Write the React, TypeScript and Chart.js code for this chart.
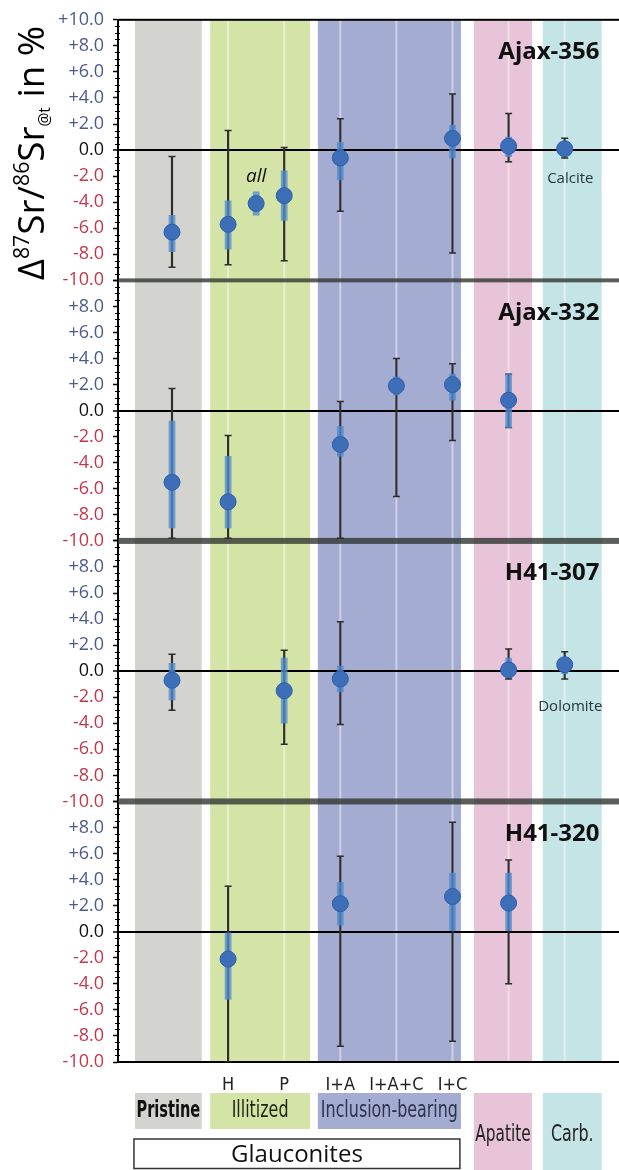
import React, { useEffect, useRef } from "react";
import { Chart, registerables } from "chart.js";

Chart.register(...registerables);

// ---------- data ----------
const columns = ["Pristine", "H", "all", "P", "I+A", "I+A+C", "I+C", "Apatite", "Carb"];
const columnPos = [0, 1, 1.5, 2, 3, 4, 5, 6, 7];
const xTickPos = [1, 2, 3, 4, 5];
const xTickLabels = ["H", "P", "I+A", "I+A+C", "I+C"];
const yTickValues = [10, 8, 6, 4, 2, 0, -2, -4, -6, -8, -10];
const panelTitles = ["Ajax-356", "Ajax-332", "H41-307", "H41-320"];

// Ajax-356
const ajax356Mean = [-6.3, -5.7, -4.1, -3.5, -0.6, null, 0.9, 0.3, 0.1];
const ajax356Max = [-0.5, 1.5, null, 0.2, 2.4, null, 4.3, 2.8, 0.9];
const ajax356Min = [-9.0, -8.8, null, -8.5, -4.7, null, -7.9, -0.9, -0.6];
const ajax356SpreadHi = [-5.0, -3.9, -3.2, -1.6, 0.6, null, 1.9, 1.0, 0.5];
const ajax356SpreadLo = [-7.8, -7.6, -5.0, -5.4, -2.3, null, -0.6, -0.5, -0.3];

// Ajax-332
const ajax332Mean = [-5.5, -7.0, null, null, -2.6, 1.9, 2.0, 0.8, null];
const ajax332Max = [1.7, -1.9, null, null, 0.7, 4.0, 3.6, 2.8, null];
const ajax332Min = [-9.8, -9.8, null, null, -9.8, -6.6, -2.3, -1.3, null];
const ajax332SpreadHi = [-0.8, -3.5, null, null, -1.2, 2.6, 2.8, 2.8, null];
const ajax332SpreadLo = [-9.0, -9.0, null, null, -3.5, 1.2, 0.8, -1.3, null];

// H41-307
const h41307Mean = [-0.7, null, null, -1.5, -0.6, null, null, 0.1, 0.5];
const h41307Max = [1.3, null, null, 1.6, 3.8, null, null, 1.7, 1.5];
const h41307Min = [-3.0, null, null, -5.6, -4.1, null, null, -0.6, -0.6];
const h41307SpreadHi = [0.6, null, null, 1.0, 0.4, null, null, 1.0, 1.0];
const h41307SpreadLo = [-2.2, null, null, -4.0, -1.6, null, null, -0.5, -0.2];

// H41-320
const h41320Mean = [null, -2.1, null, null, 2.15, null, 2.7, 2.2, null];
const h41320Max = [null, 3.5, null, null, 5.8, null, 8.4, 5.5, null];
const h41320Min = [null, -10.0, null, null, -8.8, null, -8.4, -4.0, null];
const h41320SpreadHi = [null, 0.0, null, null, 3.8, null, 4.5, 4.5, null];
const h41320SpreadLo = [null, -5.2, null, null, 0.5, null, 0.0, 0.0, null];

const bandLabels = ["Pristine", "Illitized", "Inclusion-bearing", "Apatite", "Carb."];

// ---------- layout / style ----------
const panels = [
  { title: panelTitles[0], mean: ajax356Mean, max: ajax356Max, min: ajax356Min, hi: ajax356SpreadHi, lo: ajax356SpreadLo },
  { title: panelTitles[1], mean: ajax332Mean, max: ajax332Max, min: ajax332Min, hi: ajax332SpreadHi, lo: ajax332SpreadLo },
  { title: panelTitles[2], mean: h41307Mean, max: h41307Max, min: h41307Min, hi: h41307SpreadHi, lo: h41307SpreadLo },
  { title: panelTitles[3], mean: h41320Mean, max: h41320Max, min: h41320Min, hi: h41320SpreadHi, lo: h41320SpreadLo },
];

const bands = [
  { from: -0.66, to: 0.53, color: "#d3d3cf", text: "#111", bold: true, tall: false },
  { from: 0.68, to: 2.46, color: "#d4e4a7", text: "#1d2410", bold: false, tall: false },
  { from: 2.6, to: 5.15, color: "#a5acd1", text: "#2c3350", bold: false, tall: false },
  { from: 5.38, to: 6.42, color: "#e7c4d8", text: "#222", bold: false, tall: true },
  { from: 6.61, to: 7.66, color: "#c4e4e5", text: "#222", bold: false, tall: true },
];
const columnLinePos = [1, 2, 3, 4, 5, 6, 7];

const annotations = [
  { panel: 0, x: 1.5, y: -2.0, text: "all", font: "italic 19px 'Open Sans', sans-serif", color: "#111" },
  { panel: 0, x: 7.1, y: -2.2, text: "Calcite", font: "15px 'Open Sans', sans-serif", color: "#2a3440" },
  { panel: 2, x: 7.1, y: -2.7, text: "Dolomite", font: "15px 'Open Sans', sans-serif", color: "#2a3440" },
];

const MARKER = "#3d6eb8";
const SPREAD = "rgba(78,138,208,0.78)";
const WHISKER = "#2e2e2e";
const condensed = "'Liberation Sans Narrow', 'DejaVu Sans Condensed', sans-serif";

const fmt = (v: number) => (v > 0 ? "+" + v.toFixed(1) : v.toFixed(1));

const bandsPlugin = {
  id: "bands",
  beforeDraw(chart: any) {
    const { ctx, chartArea: a, scales } = chart;
    const x = scales.x;
    ctx.save();
    bands.forEach((b) => {
      const l = x.getPixelForValue(b.from);
      const r = x.getPixelForValue(b.to);
      ctx.fillStyle = b.color;
      ctx.fillRect(l, a.top, r - l, a.bottom - a.top);
    });
    ctx.strokeStyle = "rgba(255,255,255,0.45)";
    ctx.lineWidth = 2;
    columnLinePos.forEach((v) => {
      const px = x.getPixelForValue(v);
      ctx.beginPath();
      ctx.moveTo(px, a.top);
      ctx.lineTo(px, a.bottom);
      ctx.stroke();
    });
    ctx.restore();
  },
};

const decorPlugin = {
  id: "decor",
  afterDraw(chart: any) {
    const { ctx, chartArea: a, scales } = chart;
    const x = scales.x;
    ctx.save();

    // minor ticks on y axes
    ctx.strokeStyle = "#000";
    ctx.lineWidth = 1;
    panels.forEach((_, pi) => {
      const s = scales["y" + pi];
      for (let v = -10; v <= 10; v += 0.5) {
        if (Math.abs(v % 2) < 1e-6) continue;
        const py = Math.round(s.getPixelForValue(v)) + 0.5;
        ctx.beginPath();
        ctx.moveTo(a.left - 3, py);
        ctx.lineTo(a.left + 2, py);
        ctx.stroke();
      }
    });

    // top border
    ctx.fillStyle = "#000";
    ctx.fillRect(a.left, a.top - 1, a.right - a.left, 2);

    // panel separators
    for (let pi = 0; pi < panels.length - 1; pi++) {
      const s = scales["y" + pi];
      const yb = s.getPixelForValue(-10);
      const th = pi === 0 ? 4 : 6;
      ctx.fillStyle = "rgba(45,50,45,0.78)";
      ctx.fillRect(a.left, yb - th / 2, a.right - a.left, th);
    }

    // panel titles
    ctx.textAlign = "right";
    ctx.textBaseline = "middle";
    ctx.fillStyle = "#111";
    ctx.font = "bold 24px 'Open Sans', sans-serif";
    panels.forEach((p, pi) => {
      const s = scales["y" + pi];
      ctx.fillText(p.title, x.getPixelForValue(7.62), s.getPixelForValue(7.5));
    });

    // annotations
    ctx.textAlign = "center";
    annotations.forEach((an) => {
      const s = scales["y" + an.panel];
      ctx.font = an.font;
      ctx.fillStyle = an.color;
      ctx.fillText(an.text, x.getPixelForValue(an.x), s.getPixelForValue(an.y));
    });

    // category boxes below the plot
    const boxTop = a.bottom + 31;
    const boxH = 36;
    const labelFont = (b: any) => (b.bold ? "bold " : "") + "23px " + condensed;
    ctx.font = labelFont(bands[2]);
    const refW = ctx.measureText(bandLabels[2]).width;
    const squeeze = Math.min(1, (x.getPixelForValue(bands[2].to) - x.getPixelForValue(bands[2].from) - 6) / refW);
    bands.forEach((b, i) => {
      const l = x.getPixelForValue(b.from);
      const r = x.getPixelForValue(b.to);
      const h = b.tall ? chart.height - boxTop : boxH;
      ctx.fillStyle = b.color;
      ctx.fillRect(l, boxTop, r - l, h);
      ctx.fillStyle = b.text;
      ctx.font = labelFont(b);
      ctx.textAlign = "center";
      ctx.textBaseline = "middle";
      const cy = b.tall ? boxTop + 42 : boxTop + boxH / 2;
      let sq = squeeze;
      const w = ctx.measureText(bandLabels[i]).width * sq;
      if (w > r - l - 3) sq = (sq * (r - l - 3)) / w;
      ctx.save();
      ctx.translate((l + r) / 2, cy);
      ctx.scale(sq, 1);
      ctx.fillText(bandLabels[i], 0, 0);
      ctx.restore();
    });

    // Glauconites box
    const gl = x.getPixelForValue(bands[0].from) - 1;
    const gr = x.getPixelForValue(bands[2].to) - 1;
    const gt = boxTop + boxH + 10;
    const gb = chart.height - 1.5;
    ctx.fillStyle = "#fff";
    ctx.fillRect(gl, gt, gr - gl, gb - gt);
    ctx.strokeStyle = "#333";
    ctx.lineWidth = 1.5;
    ctx.strokeRect(gl, gt, gr - gl, gb - gt);
    ctx.fillStyle = "#111";
    ctx.textAlign = "center";
    ctx.textBaseline = "middle";
    ctx.font = "24px 'Open Sans', sans-serif";
    ctx.fillText("Glauconites", (gl + gr) / 2, (gt + gb) / 2 + 1);

    // y-axis title
    const parts = [
      { t: "\u0394", k: "n" },
      { t: "87", k: "sup" },
      { t: "Sr/", k: "n" },
      { t: "86", k: "sup" },
      { t: "Sr", k: "n" },
      { t: "@t", k: "sub" },
      { t: " in %", k: "n" },
    ];
    const fam = "'Open Sans', sans-serif";
    const fontFor = (k: string, F: number) =>
      k === "n" ? `${F}px ${fam}` : k === "sup" ? `${F * 0.58}px ${fam}` : `${F * 0.42}px ${fam}`;
    const measure = (F: number) =>
      parts.reduce((acc, p) => {
        ctx.font = fontFor(p.k, F);
        return acc + ctx.measureText(p.t).width;
      }, 0);
    const target = scales.y0.getPixelForValue(-10) - scales.y0.getPixelForValue(10) - 6;
    let F = 34;
    F = (F * target) / measure(F);
    ctx.translate(44, scales.y0.getPixelForValue(-10));
    ctx.rotate(-Math.PI / 2);
    ctx.textAlign = "left";
    ctx.textBaseline = "alphabetic";
    ctx.fillStyle = "#000";
    let cx = 0;
    parts.forEach((p) => {
      ctx.font = fontFor(p.k, F);
      const dy = p.k === "sup" ? -F * 0.4 : p.k === "sub" ? F * 0.15 : 0;
      ctx.fillText(p.t, cx, dy);
      cx += ctx.measureText(p.t).width;
    });

    ctx.restore();
  },
};

export default function App() {
  const ref = useRef<HTMLCanvasElement>(null);

  useEffect(() => {
    document.body.style.margin = "0";
    const canvas = ref.current;
    if (!canvas) return;

    const datasets: any[] = [];
    panels.forEach((p, pi) => {
      const yAxisID = "y" + pi;
      const points = (arr: (number | null)[]) =>
        arr.map((v, i) => (v == null ? null : { x: columnPos[i], y: v })).filter(Boolean);
      const ranges = (lo: (number | null)[], hi: (number | null)[]) =>
        lo
          .map((v, i) => (v == null || hi[i] == null ? null : { x: columnPos[i], y: [v, hi[i]] }))
          .filter(Boolean);

      datasets.push({
        type: "scatter",
        label: p.title + " mean",
        yAxisID,
        xAxisID: "x",
        data: points(p.mean),
        pointStyle: "circle",
        pointRadius: 8,
        backgroundColor: MARKER,
        borderColor: "#2f5ea8",
        borderWidth: 1,
        order: 0,
      });
      datasets.push({
        type: "bar",
        label: p.title + " spread",
        yAxisID,
        xAxisID: "x",
        data: ranges(p.lo, p.hi),
        backgroundColor: SPREAD,
        barThickness: 6,
        grouped: false,
        order: 1,
      });
      datasets.push({
        type: "scatter",
        label: p.title + " caps",
        yAxisID,
        xAxisID: "x",
        data: [...points(p.min), ...points(p.max)],
        pointStyle: "line",
        pointRadius: 3.5,
        borderColor: WHISKER,
        borderWidth: 1.5,
        order: 2,
      });
      datasets.push({
        type: "bar",
        label: p.title + " range",
        yAxisID,
        xAxisID: "x",
        data: ranges(p.min, p.max),
        backgroundColor: WHISKER,
        barThickness: 1.5,
        grouped: false,
        order: 3,
      });
    });

    const scales: any = {
      x: {
        type: "linear",
        min: -0.9626,
        max: 7.968,
        offset: false,
        afterBuildTicks: (s: any) => {
          s.ticks = xTickPos.map((v) => ({ value: v }));
        },
        afterFit: (s: any) => {
          s.height = 108;
        },
        grid: { display: false, drawTicks: false, offset: false },
        border: { display: true, color: "#000", width: 2 },
        ticks: {
          autoSkip: false,
          maxRotation: 0,
          padding: 13,
          color: "#222",
          font: { family: condensed, size: 18 },
          callback: (v: number) => {
            const i = xTickPos.indexOf(v);
            return i >= 0 ? xTickLabels[i] : "";
          },
        },
      },
    };
    // declared bottom-first so that the first panel is stacked on top
    for (let pi = panels.length - 1; pi >= 0; pi--) {
      scales["y" + pi] = {
        type: "linear",
        position: "left",
        stack: "panels",
        stackWeight: 1,
        min: -10,
        max: 10,
        offset: false,
        afterBuildTicks: (s: any) => {
          s.ticks = yTickValues.map((v) => ({ value: v }));
        },
        afterFit: (s: any) => {
          s.width = 118;
        },
        ticks: {
          autoSkip: false,
          padding: 9,
          font: { family: "'Open Sans', sans-serif", size: 18 },
          color: (c: any) =>
            c.tick && c.tick.value > 0 ? "#4b5b8d" : c.tick && c.tick.value < 0 ? "#c3374c" : "#111",
          callback: (v: number) => (pi > 0 && v === 10 ? "" : fmt(v)),
        },
        grid: {
          drawOnChartArea: true,
          color: (c: any) => (c.tick && c.tick.value === 0 ? "#000" : "rgba(0,0,0,0)"),
          lineWidth: (c: any) => (c.tick && c.tick.value === 0 ? 2 : 1),
          tickColor: "#000",
          tickLength: 5,
          tickWidth: 1.5,
        },
        border: { display: true, color: "#000", width: 2 },
      };
    }

    const chart = new Chart(canvas, {
      type: "scatter",
      data: { datasets },
      options: {
        responsive: false,
        animation: false,
        devicePixelRatio: 1,
        events: [],
        layout: { autoPadding: false, padding: { top: 17, left: 0, right: 0, bottom: 0 } },
        plugins: { legend: { display: false }, tooltip: { enabled: false } },
        scales,
      },
      plugins: [bandsPlugin, decorPlugin],
    } as any);

    return () => chart.destroy();
  }, []);

  return (
    <div style={{ width: 619, height: 1170 }}>
      <canvas ref={ref} width={619} height={1170} style={{ display: "block" }} />
    </div>
  );
}
